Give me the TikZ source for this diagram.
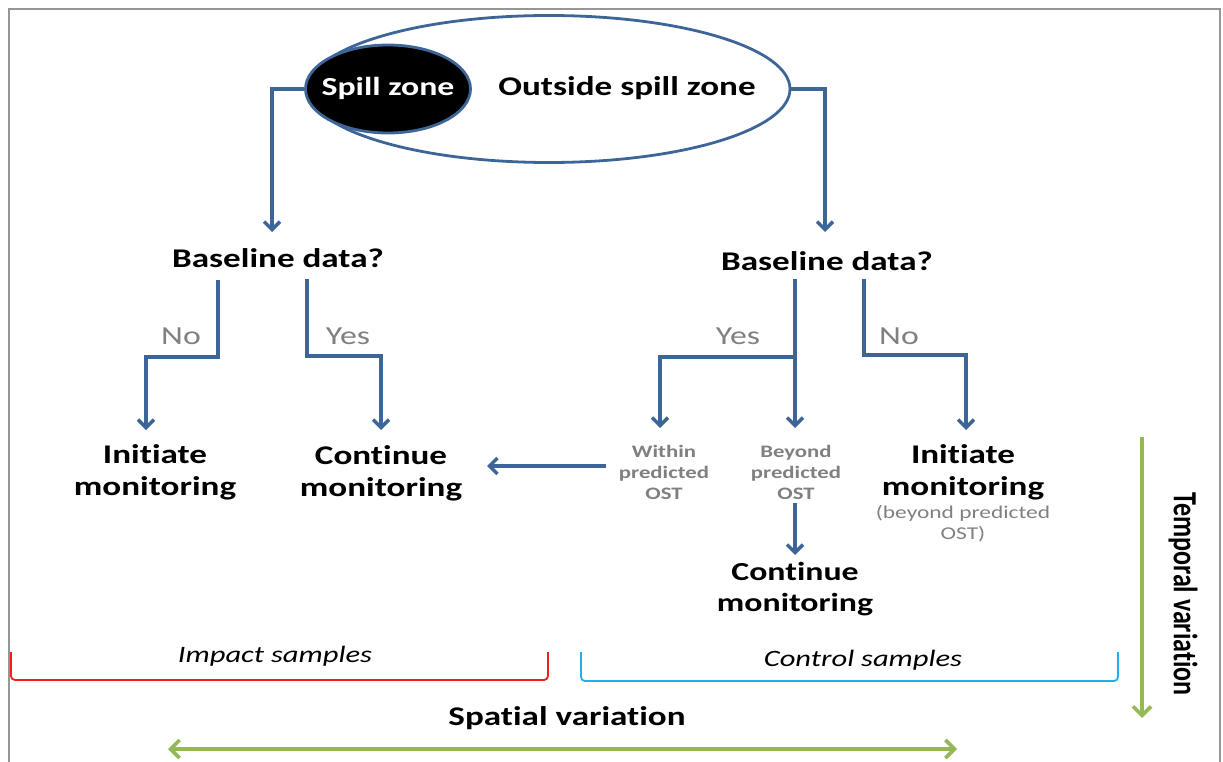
\documentclass[tikz,border=0pt]{standalone}
\usepackage{fontspec}
\setmainfont[FakeStretch=1.3,Ligatures=NoCommon]{Carlito}
\newfontfamily\calibn[Ligatures=NoCommon]{Carlito}
\usetikzlibrary{arrows.meta,calc,shapes.geometric}
\definecolor{cblue}{RGB}{62,101,152}
\definecolor{cgreen}{RGB}{148,184,88}
\definecolor{cred}{RGB}{240,30,30}
\definecolor{ccyan}{RGB}{30,176,236}
\definecolor{cgray}{RGB}{128,128,128}
\definecolor{fgray}{RGB}{150,150,150}
\tikzset{
  conn/.style={draw=cblue,line width=3.6pt,-{Straight Barb[length=8pt,width=16pt,line width=3.4pt]}},
  big/.style={font=\fontsize{27}{32}\selectfont\bfseries,align=center,inner sep=0pt},
  yn/.style={font=\fontsize{26}{28}\selectfont,text=cgray,inner sep=0pt},
  small/.style={font=\fontsize{17.5}{21}\selectfont\bfseries,text=cgray,align=center,inner sep=0pt},
  smalln/.style={font=\fontsize{18}{21}\selectfont,text=cgray,align=center,inner sep=0pt},
  garrow/.style={draw=cgreen,line width=4pt},
  gtip/.tip={Straight Barb[length=9pt,width=18pt,line width=3.6pt]},
  samp/.style={font=\itshape\fontsize{23.5}{26}\selectfont,inner sep=0pt},
}
\begin{document}
\begin{tikzpicture}[x=1pt,y=-1pt]
\useasboundingbox (0,0) rectangle (1223,762);
\draw[fgray,line width=1.5pt] (9,762) -- (9,9) -- (1220,9) -- (1220,762);

% ellipses
\node[draw=cblue,line width=2.8pt,fill=white,ellipse,minimum width=482pt,minimum height=147pt,inner sep=0pt] (oz) at (549,89) {};
\node[draw=cblue,line width=2.8pt,fill=black,ellipse,minimum width=165pt,minimum height=88pt,inner sep=0pt] (sz) at (388,89) {};
\node[big,text=white,font=\fontsize{26}{30}\selectfont\bfseries] (szt) at (388,88) {Spill zone};
\node[big] (ot) at (627,88) {Outside spill zone};

% decision nodes
\node[big] (bl) at (278,258) {Baseline data?};
\node[big] (br) at (827,261) {Baseline data?};

\node[big] (il) at (155,472) {Initiate\\monitoring};
\node[big] (cl) at (381,473) {Continue\\monitoring};
\node[small] (wi) at (664,472) {Within\\predicted\\OST};
\node[small] (bo) at (796,472) {Beyond\\predicted\\OST};
\node[big] (ir) at (963,472) {Initiate\\monitoring};
\node[smalln] (irs) at (963,524) {(beyond predicted\\OST)};
\node[big,font=\fontsize{26}{31}\selectfont\bfseries] (cb) at (795,589) {Continue\\monitoring};

% labels
\node[yn] (n1) at (181,336) {No};
\node[yn] (y1) at (348,336) {Yes};
\node[yn] (y2) at (738,336) {Yes};
\node[yn] (n2) at (899,336) {No};

% connectors
\draw[conn] (sz.west) -| ($(bl.center)+(-6,-26)$);
\draw[conn] (oz.east) -| ($(br.center)+(-2,-29)$);

\draw[conn] ($(bl.center)+(-60,22)$) -- ++(0,77) -| ($(il.center)+(-9,-42)$);
\draw[conn] ($(bl.center)+(29,21)$) -- ++(0,77) -| ($(cl.center)+(0,-43)$);

\draw[conn] ($(br.center)+(-32,18)$) -- ($(bo.center)+(-1,-44)$);
\draw[conn] ($(br.center)+(-32,96)$) -| ($(wi.center)+(-4,-44)$);
\draw[conn] ($(br.center)+(37,18)$) -- ++(0,76) -| ($(ir.center)+(3,-42)$);

\draw[conn] ($(wi.center)+(-58,-6)$) -- ($(cl.center)+(106,-7)$);
\draw[conn] ($(bo.center)+(-1,31)$) -- ($(cb.center)+(0,-34)$);

% sample brackets
\draw[cred,line width=1.8pt,rounded corners=4pt] (11,652) -- (11,680) -- (548,680) -- (548,652);
\draw[ccyan,line width=1.8pt,rounded corners=4pt] (581,652) -- (581,681) -- (1118,681) -- (1118,652);
\node[samp] (imp) at (275,656) {Impact samples};
\node[samp] (ctl) at (863,660) {Control samples};

% variation arrows
\coordinate (tt) at (1142,437);
\coordinate (tb) at (1142,718);
\draw[garrow,-{gtip}] (tt) -- (tb);
\node[font=\calibn\bfseries\fontsize{26}{28}\selectfont,rotate=-90,inner sep=0pt] (tv) at (1183,594) {\scalebox{1}[1.3]{Temporal variation}};

\node[font=\bfseries\fontsize{27}{30}\selectfont,inner sep=0pt] (sv) at (567,718) {Spatial variation};
\coordinate (sl) at (168,749);
\coordinate (sr) at (957,749);
\draw[garrow,{gtip}-{gtip}] (sl) -- (sr);
\end{tikzpicture}
\end{document}
